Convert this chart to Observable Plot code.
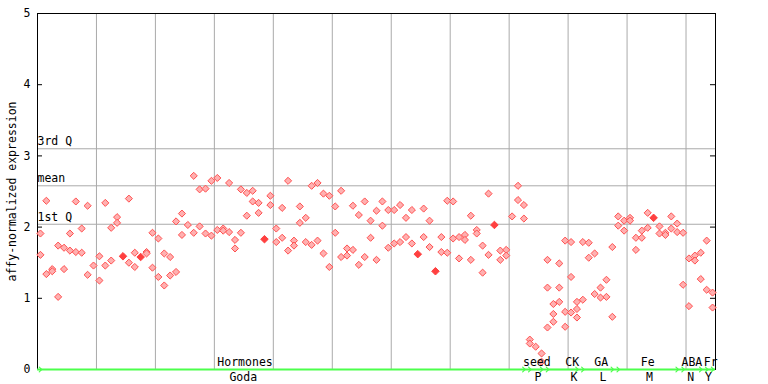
<!DOCTYPE html>
<html><head><meta charset="utf-8">
<script src="https://cdn.jsdelivr.net/npm/d3@7"></script>
<script src="https://cdn.jsdelivr.net/npm/@observablehq/plot@0.6"></script>
<style>body{margin:0;background:#fff}</style>
</head><body><div id="chart"></div>
<script>
// expression values per sample column (replicates)
const rep1 = [1.91,2.37,1.41,1.74,1.71,1.91,2.36,1.98,2.30,1.46, 1.59,2.34,1.99,2.14,1.59,2.40,1.64,1.58,1.65,1.92,
  1.84,1.63,1.58,2.08,2.19,2.03,2.72,2.53,2.54,2.65, 2.69,1.98,2.62,1.82,2.53,2.48,2.51,2.34,1.83,2.44,
  1.98,2.27,2.65,1.81,2.29,2.13,2.58,2.62,2.47,2.44, 2.29,2.51,1.70,2.30,2.17,2.36,2.09,2.23,2.36,2.24,
  2.24,2.31,2.13,2.24,1.62,2.26,2.09,1.38,1.86,2.37, 2.36,1.86,1.89,2.16,1.96,1.74,2.47,2.03,1.67,1.68,
  2.15,2.58,2.31,0.42,0.32,0.225,1.54,0.92,1.49,1.81, 1.79,0.95,1.79,1.78,1.63,1.15,1.26,1.72,2.15,2.09,
  2.13,1.85,1.95,2.20,2.13,2.01,1.92,2.15,2.05,1.92, 1.56,1.60,1.64,1.81,1.08];
const rep2 = [1.61,1.34,1.38,1.02,1.41,1.67,1.65,1.64,1.33,null, 1.25,1.46,1.53,2.06,null,1.50,1.44,null,1.63,1.43,
  1.30,1.18,1.32,1.37,1.89,null,1.92,2.01,1.91,1.88, 1.96,1.95,1.93,1.70,1.92,2.16,2.36,2.20,null,2.31,
  1.79,1.85,1.67,1.74,2.06,1.79,1.75,1.81,1.63,1.44, 1.92,1.58,1.60,1.68,1.47,1.58,1.85,1.54,2.02,1.71,
  1.77,1.79,1.86,1.77,null,1.86,1.72,null,1.65,1.64, 1.84,1.56,1.82,1.54,1.91,1.36,1.61,null,1.54,1.60,
  null,2.38,2.12,0.365,null,0.11,1.15,0.78,1.15,0.81, 1.30,0.85,0.98,1.57,1.06,1.01,1.02,0.74,2.02,1.95,
  2.09,1.68,1.85,1.99,null,1.91,1.89,1.98,1.93,1.19, 0.89,1.53,1.27,1.12,0.87];
const rep3 = {86:0.59, 87:0.67, 88:0.95, 89:0.60, 90:0.80, 91:0.73};
const solidCols = [14,17,38,64,67,77,104];

// summary lines
const qLabels = ["3rd Q","mean","1st Q"];
const qValues = [3.10,2.58,2.04];

// groups along the bottom (inclusive column ranges)
const groupTop = ["Hormones","seed","CK","GA","Fe","ABA","Fr"];
const groupBottom = ["Goda","P","K","L","M","N","Y"];
const groupStart = [0,83,86,92,98,109,113];
const groupEnd = [82,85,91,97,108,112,114];
const topLabelAt = [35.2,84.7,90.7,95.6,103.5,111.0,114.2];
const bottomLabelAt = [34.9,84.9,91.0,95.9,103.8,110.8,113.8];

const yTicks = [0,1,2,3,4,5];
const nCols = rep1.length;

const pts = [];
for (let i = 0; i < nCols; i++) {
  const solid = solidCols.includes(i);
  if (rep1[i] != null) pts.push({x: i + 0.5, y: rep1[i], solid});
  if (rep2[i] != null) pts.push({x: i + 0.5, y: rep2[i], solid});
  if (rep3[i] != null) pts.push({x: i + 0.5, y: rep3[i], solid});
}
const groups = groupTop.map((g, i) => ({top: g, bottom: groupBottom[i], x1: groupStart[i] + 0.5, x2: groupEnd[i] + 0.5, tx: topLabelAt[i], bx: bottomLabelAt[i]}));
const mono = "DejaVu Sans Mono";
const grid = "#aaaaaa";
const green = "#4dff4d";

const chart = Plot.plot({
  width: 768, height: 384,
  marginLeft: 37, marginRight: 53, marginTop: 13, marginBottom: 15,
  style: {fontFamily: mono, fontSize: "11.5px", background: "#fff", color: "#000"},
  x: {domain: [0, nCols], axis: null},
  y: {domain: [0, 5], axis: null},
  marks: [
    Plot.ruleX(d3.range(10, nCols, 10), {stroke: grid, strokeWidth: 1}),
    Plot.ruleY(qValues, {stroke: grid, strokeWidth: 1}),
    Plot.text(qLabels, {x: 0, y: (d, i) => qValues[i], text: d => d, textAnchor: "start", dy: -7, fontFamily: mono, fontSize: 11.5, fill: "#000"}),
    Plot.frame({stroke: "#000"}),
    Plot.ruleY([1,2,3,4], {x1: 0, x2: 0.85, stroke: "#000"}),
    Plot.ruleY([1,2,3,4], {x1: nCols - 0.85, x2: nCols, stroke: "#000"}),
    Plot.axisY({ticks: yTicks, tickSize: 0, tickPadding: 7, tickFormat: d3.format("d"), label: null, fontFamily: mono, fontSize: 11.5}),
    Plot.text(["affy-normalized expression"], {frameAnchor: "left", textAnchor: "middle", rotate: -90, dx: -25, fontFamily: mono, fontSize: 11.5, fill: "#000"}),
    Plot.ruleY([0], {stroke: green, strokeWidth: 2}),
    Plot.link(groups, {x1: "x1", x2: "x2", y1: 0, y2: 0, stroke: green, strokeWidth: 1.2, markerStart: "arrow", markerEnd: "arrow"}),
    Plot.dot(pts.filter(d => !d.solid), {x: "x", y: "y", symbol: "diamond2", r: 3.2, fill: "#ffb0b0", stroke: "#ff5050", strokeWidth: 1}),
    Plot.dot(pts.filter(d => d.solid), {x: "x", y: "y", symbol: "diamond2", r: 3.4, fill: "#ff4040", stroke: "#ff4040", strokeWidth: 1}),
    Plot.text(groups, {x: "tx", y: 0, text: "top", dy: -7, fontFamily: mono, fontSize: 11.5, fill: "#000"}),
    Plot.text(groups, {x: "bx", y: 0, text: "bottom", dy: 8, fontFamily: mono, fontSize: 11.5, fill: "#000"})
  ]
});
document.getElementById("chart").appendChild(chart);
</script>
</body></html>
